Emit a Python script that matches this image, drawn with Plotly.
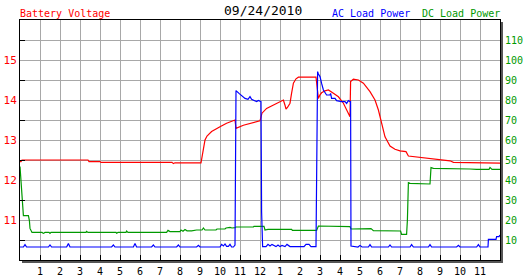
import plotly.graph_objects as go

# ---- data ----
hour_ticks = list(range(1, 24))
hour_labels = [str(i) for i in range(1, 12)] + ["12"] + [str(i) for i in range(1, 12)]
volt_ticks = [11, 12, 13, 14, 15]
power_ticks = [10, 20, 30, 40, 50, 60, 70, 80, 90, 100, 110]

volt_hours = [0, 0.05, 0.1, 3.4, 3.45, 4.0, 4.05, 7.6, 7.67, 7.75, 9.05, 9.15, 9.25, 9.35, 9.58,
              10.0, 10.33, 10.75, 10.8, 11.17, 11.6, 12.0, 12.05, 12.1, 12.33, 12.67, 13.0, 13.17,
              13.25, 13.3, 13.38, 13.5, 13.58, 13.67, 13.8, 13.92, 14.8, 14.88, 14.92, 15.0, 15.08,
              15.25, 15.42, 15.67, 15.92, 16.17, 16.33, 16.5, 16.53, 16.67, 16.92, 17.17, 17.5,
              17.75, 17.92, 18.08, 18.25, 18.5, 18.75, 19.0, 19.3, 19.42, 20.0, 20.5, 21.0, 21.5,
              21.67, 22.83, 22.9, 24]
volt_values = [12.46, 12.46, 12.5, 12.5, 12.46, 12.46, 12.44, 12.44, 12.41, 12.43, 12.43, 12.75,
               13.0, 13.1, 13.21, 13.33, 13.42, 13.5, 13.29, 13.37, 13.43, 13.48, 13.58, 13.67,
               13.79, 13.87, 13.96, 14.0, 13.87, 13.77, 13.82, 13.92, 14.17, 14.42, 14.53, 14.57,
               14.57, 14.17, 14.04, 14.13, 14.18, 14.23, 14.25, 14.17, 14.08, 13.92, 13.75, 13.58,
               14.46, 14.52, 14.5, 14.42, 14.21, 14.0, 13.75, 13.42, 13.08, 12.85, 12.77, 12.73,
               12.71, 12.6, 12.57, 12.54, 12.52, 12.48, 12.44, 12.43, 12.42, 12.42]

dc_hours = [0, 0.05, 0.1, 0.17, 0.42, 0.47, 0.5, 0.55, 0.6, 1.1, 1.17, 1.25, 1.45, 1.5, 1.55,
            3.3, 3.33, 3.4, 4.8, 4.83, 4.9, 5.3, 5.33, 5.4, 7.33, 7.4, 7.5, 8.0, 8.05, 8.15, 8.25,
            8.35, 8.58, 8.83, 9.1, 9.17, 9.25, 9.8, 9.85, 10.25, 10.3, 10.5, 10.6, 10.75, 10.8,
            11.67, 11.7, 12.2, 12.25, 12.4, 13.58, 13.62, 14.83, 14.92, 15.5, 15.55, 16.5, 16.55,
            17.33, 17.55, 17.67, 18.5, 19.03, 19.08, 19.33, 19.37, 19.42, 19.5, 20.5, 20.55,
            20.67, 22.5, 22.83, 23.45, 23.5, 23.6, 24]
dc_values = [46.7, 40, 28.3, 22.2, 22.2, 19.7, 15.8, 14.2, 13.8, 13.8, 13.3, 13.8, 13.8, 13.3, 13.8,
             13.8, 14.3, 13.8, 13.8, 13.4, 13.8, 13.8, 14.5, 13.8, 13.8, 14.8, 14.2, 14.2, 15.0,
             14.4, 15.2, 14.6, 14.6, 15.0, 15.0, 16.0, 15.0, 15.0, 15.5, 15.5, 16.0, 16.3, 16.0,
             16.2, 16.5, 16.5, 16.8, 16.8, 15.0, 15.3, 15.3, 14.8, 14.8, 17.0, 17.0, 16.7, 16.7,
             15.5, 15.5, 15.7, 14.7, 14.5, 14.5, 12.8, 12.8, 20, 38.7, 38.3, 38.0, 46.2, 45.8,
             45.5, 45.3, 45.3, 46.3, 45.3, 45.3]

ac_hours = [0, 0.17, 0.25, 0.33, 1.42, 1.5, 1.58, 2.33, 2.42, 2.5, 4.58, 4.67, 4.75, 5.67, 5.75,
            5.83, 6.58, 6.67, 6.75, 7.83, 7.92, 8.0, 8.83, 8.92, 9.0, 10.0, 10.08, 10.17, 10.25,
            10.33, 10.42, 10.5, 10.58, 10.67, 10.75, 10.77, 10.8, 10.95, 11.1, 11.25, 11.4, 11.5,
            11.58, 11.75, 11.83, 11.92, 12.05, 12.08, 12.13, 12.3, 12.4, 12.5, 12.6, 12.8, 12.9,
            13.0, 13.1, 13.25, 13.35, 13.5, 13.6, 14.2, 14.3, 14.45, 14.55, 14.8, 14.82, 14.88,
            14.92, 15.0, 15.08, 15.17, 15.33, 15.5, 15.53, 15.58, 15.75, 15.83, 16.08, 16.25,
            16.33, 16.42, 16.5, 16.53, 16.55, 16.9, 17.0, 17.1, 17.42, 17.5, 17.58, 18.42, 18.5,
            18.58, 19.5, 19.58, 19.67, 20.42, 20.5, 20.58, 21.83, 21.92, 22.0, 22.83, 22.92, 23.0,
            23.4, 23.42, 23.8, 23.83, 23.95, 24]
ac_values = [6.5, 6.5, 7.7, 6.5, 6.5, 7.5, 6.5, 6.5, 8.2, 6.5, 6.5, 7.5, 6.5, 6.5, 8.2,
             6.5, 6.5, 7.5, 6.5, 6.5, 7.5, 6.5, 6.5, 7.3, 6.5, 6.5, 7.8, 7.0, 8.0,
             6.8, 6.8, 7.8, 6.5, 6.5, 7.5, 45, 84.7, 83.3, 82, 80.8, 80.3, 81.7,
             80.3, 79.7, 79.2, 79.8, 79.2, 24, 6.7, 6.7, 7.8, 7.0, 7.8, 6.7, 7.5,
             6.7, 7.3, 6.7, 7.8, 6.7, 6.7, 6.7, 7.8, 7.8, 6.7, 6.7, 29, 94.2,
             93, 91.7, 88.3, 85, 82.5, 82.5, 83.3, 80.8, 80.8, 79.7, 79.2, 79.2,
             78.3, 79.7, 79.2, 79.2, 7, 6.5, 7.3, 6.5, 6.5, 7.7, 6.5, 6.5, 7.5,
             6.5, 6.5, 7.7, 6.5, 6.5, 7.7, 6.5, 6.5, 7.3, 6.5, 6.5, 7.7, 6.5,
             6.5, 10.3, 10.3, 11.7, 11.7, 12.5]

FONT = "DejaVu Sans Mono"
GRID = "#a8a8a8"

fig = go.Figure()
fig.add_trace(go.Scatter(x=dc_hours, y=dc_values, yaxis="y2", mode="lines",
                         line=dict(color="#009900", width=1.2), hoverinfo="skip"))
fig.add_trace(go.Scatter(x=volt_hours, y=volt_values, mode="lines",
                         line=dict(color="#ff0000", width=1.2), hoverinfo="skip"))
fig.add_trace(go.Scatter(x=ac_hours, y=ac_values, yaxis="y2", mode="lines",
                         line=dict(color="#0000ff", width=1.2), hoverinfo="skip"))

fig.update_layout(
    width=527, height=280,
    margin=dict(l=20, r=27, t=20, b=20, autoexpand=False),
    paper_bgcolor="white", plot_bgcolor="white",
    showlegend=False,
    font=dict(family=FONT, size=10, color="black"),
    xaxis=dict(range=[0, 24], tickvals=hour_ticks, ticktext=hour_labels, automargin=False,
               showgrid=True, gridcolor=GRID, gridwidth=1, zeroline=False,
               showline=True, linecolor="black", linewidth=1, mirror=True,
               ticks="inside", ticklen=5, tickcolor="black", tickwidth=1,
               ticklabelstandoff=2,
               tickfont=dict(family=FONT, size=10, color="black"), fixedrange=True),
    yaxis=dict(range=[10, 16], tickvals=volt_ticks, ticktext=[str(v) for v in volt_ticks],
               automargin=False,
               showgrid=True, gridcolor=GRID, gridwidth=1, zeroline=False,
               showline=True, linecolor="black", linewidth=1, mirror=True,
               ticks="", tickfont=dict(family=FONT, size=11, color="#ff0000"),
               minor=dict(tickvals=[10.5, 11.5, 12.5, 13.5, 14.5, 15.5], ticks="inside",
                          ticklen=5, tickcolor="black", showgrid=True, gridcolor=GRID),
               fixedrange=True),
    yaxis2=dict(range=[0, 120], tickvals=power_ticks, overlaying="y", side="right",
                automargin=False, ticklabelstandoff=4,
                showgrid=False, zeroline=False, showline=False, ticks="",
                tickfont=dict(family=FONT, size=10, color="#009900"), fixedrange=True),
    annotations=[
        dict(text="Battery Voltage", xref="paper", yref="paper", x=0, y=1, xanchor="left",
             yanchor="middle", yshift=7, xshift=-2, showarrow=False,
             font=dict(family=FONT, size=10, color="#ff0000")),
        dict(text="09/24/2010", xref="paper", yref="paper", x=0.506, y=1, xanchor="center",
             yanchor="middle", yshift=10, showarrow=False, font=dict(family=FONT, size=13, color="black")),
        dict(text="AC Load Power", xref="paper", yref="paper", x=0.649, y=1, xanchor="left",
             yanchor="middle", yshift=7, xshift=-2, showarrow=False,
             font=dict(family=FONT, size=10, color="#0000ff")),
        dict(text="DC Load Power", xref="paper", yref="paper", x=1, y=1, xanchor="right",
             yanchor="middle", yshift=7, xshift=2, showarrow=False,
             font=dict(family=FONT, size=10, color="#009900")),
    ],
    shapes=[
        dict(type="rect", xref="paper", yref="paper", xsizemode="pixel", xanchor=1,
             x0=1, x1=3, y0=-3 / 240, y1=1 - 2 / 240, fillcolor="#555555", line=dict(width=0)),
        dict(type="rect", xref="paper", yref="paper", ysizemode="pixel", yanchor=0,
             y0=-1, y1=-3, x0=2 / 480, x1=1 + 3 / 480, fillcolor="#555555", line=dict(width=0)),
    ],
)

fig.write_html("out.html", config={"displayModeBar": False})
